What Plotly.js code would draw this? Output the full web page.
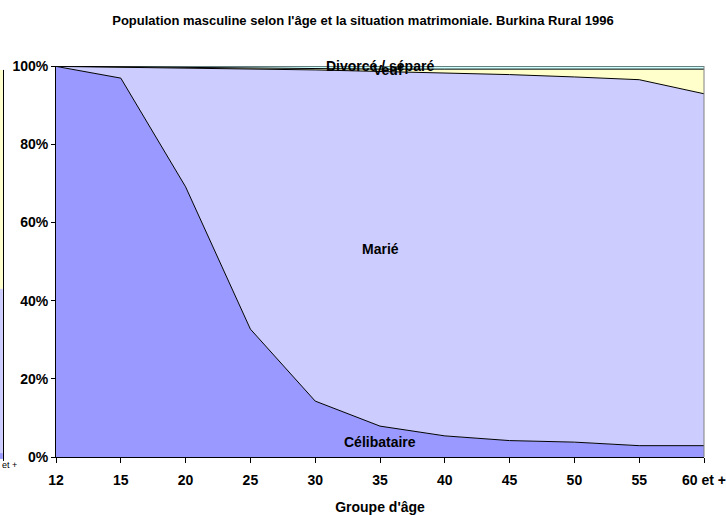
<!DOCTYPE html>
<html>
<head>
<meta charset="utf-8">
<script src="https://cdn.plot.ly/plotly-3.0.1.min.js"></script>
<style>html,body{margin:0;padding:0;background:#fff;}#chart{width:726px;height:515px;}</style>
</head>
<body>
<div id="chart"></div>
<script>
const categories = ['12','15','20','25','30','35','40','45','50','55','60 et +'];
const celibataire = [99.9, 96.9, 69.1, 32.7, 14.3, 7.9, 5.4, 4.2, 3.8, 2.9, 2.9];
const marie       = [0.0, 2.8, 30.4, 66.5, 84.7, 90.7, 92.8, 93.6, 93.4, 93.6, 90.0];
const veuf        = [0.05, 0.1, 0.1, 0.2, 0.3, 0.6, 1.0, 1.4, 2.0, 2.7, 6.3];
const divorce     = [0.05, 0.2, 0.4, 0.6, 0.7, 0.8, 0.8, 0.8, 0.8, 0.8, 0.8];
const seriesNames = ['Célibataire', 'Marié', 'Veuf', 'Divorcé / séparé'];
const labelCategory = '35';

const fills = ['#9999FF', '#CCCCFF', '#FFFFCC', '#CCFFFF'];
const allSeries = [celibataire, marie, veuf, divorce];

const traces = allSeries.map((vals, i) => ({
  type: 'scatter', mode: 'lines', x: categories, y: vals,
  stackgroup: 'one', name: seriesNames[i],
  fillcolor: fills[i], line: {color: '#000', width: 1}, hoverinfo: 'skip'
}));

const idx = categories.indexOf(labelCategory);
let base = 0;
const fam = 'Liberation Sans, Arial, sans-serif';
const font = {family: fam, size: 14, color: '#000', weight: 'bold'};
const titleFont = {family: fam, size: 13, color: '#000', weight: 'bold'};
const annotations = allSeries.map((vals, i) => {
  const mid = base + vals[idx] / 2;
  base += vals[idx];
  return {x: idx, y: mid, xref: 'x', yref: 'y', text: seriesNames[i],
          showarrow: false, font: font, xshift: i === 2 ? 8 : 0, yshift: i === 3 ? 2 : 0};
});
annotations.push({xref: 'paper', yref: 'paper', x: -0.0864, y: -0.02, xanchor: 'left', yanchor: 'middle',
  text: 'et +', showarrow: false, font: {family: fam, size: 9, color: '#000'}});

const layout = {
  width: 726, height: 515,
  margin: {l: 56, r: 22, t: 66, b: 58},
  paper_bgcolor: '#fff', plot_bgcolor: '#fff',
  showlegend: false,
  title: {text: 'Population masculine selon l\'âge et la situation matrimoniale. Burkina Rural 1996',
          font: titleFont, x: 0.5, xanchor: 'center', y: 0.96, yanchor: 'middle'},
  xaxis: {type: 'category', range: [0, 10], showline: true, linecolor: '#000', linewidth: 1,
          ticks: 'outside', ticklen: 5, tickcolor: '#000', showgrid: false, zeroline: false,
          tickfont: font, ticklabelstandoff: 5,
          title: {text: 'Groupe d\'âge', font: font, standoff: 16}},
  yaxis: {range: [0, 100], dtick: 20, ticksuffix: '%', showline: true, linecolor: '#000', linewidth: 1,
          ticks: 'outside', ticklen: 4, tickcolor: '#000', showgrid: false, zeroline: false,
          tickfont: font},
  shapes: [
    {type: 'line', xref: 'paper', yref: 'paper', x0: 1, x1: 1, y0: 0, y1: 1, line: {color: '#808080', width: 1}},
    {type: 'rect', xref: 'paper', yref: 'paper', x0: -0.087, x1: -0.082, y0: 0.43, y1: 0.99, fillcolor: '#FFFFCC', line: {width: 0}},
    {type: 'rect', xref: 'paper', yref: 'paper', x0: -0.087, x1: -0.082, y0: 0.01, y1: 0.43, fillcolor: '#CCCCFF', line: {width: 0}},
    {type: 'rect', xref: 'paper', yref: 'paper', x0: -0.087, x1: -0.082, y0: -0.005, y1: 0.01, fillcolor: '#9999FF', line: {width: 0}},
    {type: 'line', xref: 'paper', yref: 'paper', x0: -0.081, x1: -0.081, y0: -0.01, y1: 0.99, line: {color: '#000', width: 1}}
  ],
  annotations: annotations
};

Plotly.newPlot('chart', traces, layout, {displayModeBar: false, staticPlot: true});
</script>
</body>
</html>
